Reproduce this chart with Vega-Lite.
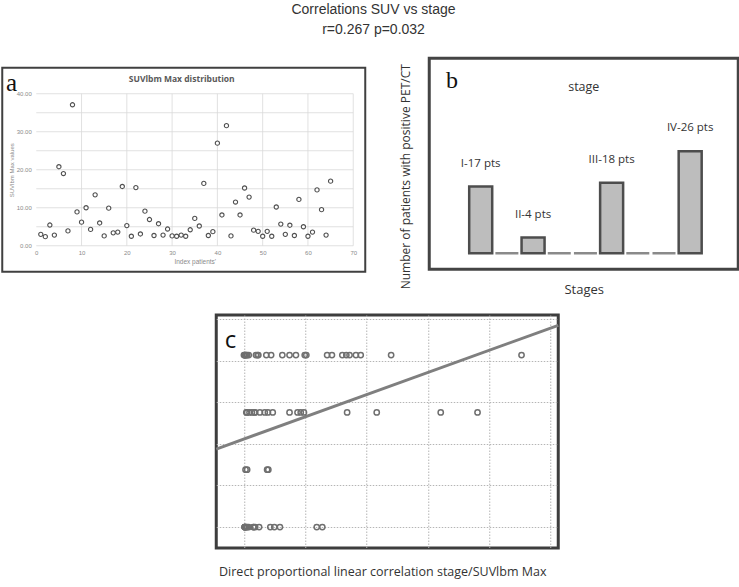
{
  "$schema": "https://vega.github.io/schema/vega-lite/v6.json",
  "background": "white",
  "padding": {"left": 1, "top": 3, "right": 0, "bottom": 0},
  "title": {"text": "Correlations SUV vs stage", "subtitle": "r=0.267 p=0.032", "font": "Liberation Sans", "subtitleFont": "Liberation Sans", "fontSize": 14, "subtitleFontSize": 14, "fontWeight": "normal", "color": "#333333", "subtitleColor": "#333333", "subtitlePadding": 6, "offset": 17, "anchor": "middle", "dx": 3},
  "datasets": {
    "patients": [
      {"idx":1,"suv":3.0,"stage":1},{"idx":2,"suv":2.4,"stage":4},{"idx":3,"suv":5.45,"stage":2},{"idx":4,"suv":2.8,"stage":4},{"idx":5,"suv":20.8,"stage":4},
      {"idx":6,"suv":19.0,"stage":3},{"idx":7,"suv":3.9,"stage":4},{"idx":8,"suv":37.1,"stage":4},{"idx":9,"suv":8.9,"stage":4},{"idx":10,"suv":6.2,"stage":1},
      {"idx":11,"suv":10.0,"stage":4},{"idx":12,"suv":4.3,"stage":1},{"idx":13,"suv":13.4,"stage":4},{"idx":14,"suv":6.0,"stage":3},{"idx":15,"suv":2.6,"stage":4},
      {"idx":16,"suv":9.9,"stage":3},{"idx":17,"suv":3.4,"stage":3},{"idx":18,"suv":3.6,"stage":1},{"idx":19,"suv":15.6,"stage":4},{"idx":20,"suv":5.3,"stage":2},
      {"idx":21,"suv":2.5,"stage":4},{"idx":22,"suv":15.3,"stage":3},{"idx":23,"suv":3.1,"stage":3},{"idx":24,"suv":9.1,"stage":3},{"idx":25,"suv":6.9,"stage":1},
      {"idx":26,"suv":2.7,"stage":4},{"idx":27,"suv":5.8,"stage":4},{"idx":28,"suv":2.8,"stage":3},{"idx":29,"suv":4.4,"stage":3},{"idx":30,"suv":2.6,"stage":2},
      {"idx":31,"suv":2.5,"stage":4},{"idx":32,"suv":2.8,"stage":2},{"idx":33,"suv":2.5,"stage":1},{"idx":34,"suv":4.2,"stage":4},{"idx":35,"suv":7.2,"stage":4},
      {"idx":36,"suv":5.2,"stage":4},{"idx":37,"suv":16.4,"stage":4},{"idx":38,"suv":2.7,"stage":3},{"idx":39,"suv":3.7,"stage":3},{"idx":40,"suv":27.0,"stage":3},
      {"idx":41,"suv":8.1,"stage":4},{"idx":42,"suv":31.6,"stage":3},{"idx":43,"suv":2.6,"stage":1},{"idx":44,"suv":11.5,"stage":1},{"idx":45,"suv":8.1,"stage":3},
      {"idx":46,"suv":15.2,"stage":4},{"idx":47,"suv":12.8,"stage":4},{"idx":48,"suv":4.1,"stage":4},{"idx":49,"suv":3.8,"stage":3},{"idx":50,"suv":2.5,"stage":1},
      {"idx":51,"suv":3.8,"stage":1},{"idx":52,"suv":2.5,"stage":1},{"idx":53,"suv":10.2,"stage":4},{"idx":54,"suv":5.7,"stage":1},{"idx":55,"suv":3.0,"stage":4},
      {"idx":56,"suv":5.4,"stage":3},{"idx":57,"suv":2.7,"stage":1},{"idx":58,"suv":12.2,"stage":1},{"idx":59,"suv":5.0,"stage":3},{"idx":60,"suv":2.5,"stage":1},
      {"idx":61,"suv":3.6,"stage":1},{"idx":62,"suv":14.7,"stage":4},{"idx":63,"suv":9.5,"stage":3},{"idx":64,"suv":2.8,"stage":1},{"idx":65,"suv":17.0,"stage":4}
    ],
    "stages": [
      {"slot":1,"count":17,"label":"I-17 pts"},{"slot":2,"count":0,"label":""},{"slot":3,"count":4,"label":"II-4 pts"},
      {"slot":4,"count":0,"label":""},{"slot":5,"count":0,"label":""},{"slot":6,"count":18,"label":"III-18 pts"},
      {"slot":7,"count":0,"label":""},{"slot":8,"count":0,"label":""},{"slot":9,"count":26,"label":"IV-26 pts"}
    ],
    "fit": [{"suv": -1.06, "stage": 2.36}, {"suv": 41.69, "stage": 4.52}]
  },
  "center": true,
  "spacing": 15,
  "vconcat": [
    {
      "center": true,
      "spacing": 31,
      "hconcat": [
        {
          "width": 363, "height": 204,
          "view": {"stroke": "#404040", "strokeWidth": 2, "fill": "white"},
          "title": {"text": [" ", "SUVlbm Max distribution"], "font": "Open Sans", "fontSize": 8.5, "fontWeight": "bold", "color": "#595959", "lineHeight": 20, "baseline": "bottom", "offset": -25, "anchor": "middle", "dx": -2},
          "layer": [
            {
              "data": {"values": [{"g":0},{"g":5},{"g":10},{"g":15},{"g":20},{"g":25},{"g":30},{"g":35},{"g":40}]},
              "mark": {"type": "rule", "color": "#d9d9d9", "strokeWidth": 0.8},
              "encoding": {
                "y": {"field": "g", "type": "quantitative", "scale": {"domain": [-6.84, 46.84], "nice": false, "zero": false},
                  "axis": {"orient": "left", "offset": -34, "values": [0,5,10,15,20,25,30,35,40], "format": ".2f", "domain": false, "ticks": false, "grid": false, "labelFlush": false, "labelFont": "Liberation Sans", "labelFontSize": 6, "labelColor": "#8a8a8a", "labelPadding": 5, "title": "SUVlbm Max values", "titleFont": "Liberation Sans", "titleFontSize": 6, "titleFontWeight": "normal", "titleColor": "#8a8a8a", "titlePadding": 2}},
                "x": {"datum": 0, "type": "quantitative", "scale": {"domain": [-7.51, 72.65], "nice": false, "zero": false},
                  "axis": {"orient": "bottom", "offset": -26, "values": [0,10,20,30,40,50,60,70], "domain": false, "ticks": false, "grid": false, "labelFlush": false, "labelFont": "Liberation Sans", "labelFontSize": 6, "labelColor": "#8a8a8a", "labelPadding": 4, "title": ["Index patients'", " "], "titleLineHeight": 22, "titleFont": "Liberation Sans", "titleFontSize": 6.5, "titleFontWeight": "normal", "titleColor": "#8a8a8a", "titlePadding": 3, "titleX": 192.5}},
                "x2": {"datum": 70}
              }
            },
            {
              "data": {"values": [{"g":10},{"g":20},{"g":30},{"g":40},{"g":50},{"g":60},{"g":70}]},
              "mark": {"type": "rule", "color": "#d9d9d9", "strokeWidth": 0.8},
              "encoding": {
                "x": {"field": "g", "type": "quantitative"},
                "y": {"datum": 0, "type": "quantitative"},
                "y2": {"datum": 40}
              }
            },
            {
              "data": {"name": "patients"},
              "mark": {"type": "point", "shape": "circle", "filled": true, "fill": "white", "stroke": "#505050", "strokeWidth": 1.1, "size": 18, "opacity": 1},
              "encoding": {
                "x": {"field": "idx", "type": "quantitative", "title": ["Index patients'", " "]},
                "y": {"field": "suv", "type": "quantitative", "title": "SUVlbm Max values"}
              }
            },
            {
              "data": {"values": [{}]},
              "mark": {"type": "text", "text": "a", "font": "Liberation Serif", "fontSize": 25, "align": "left", "baseline": "alphabetic", "color": "#111111"},
              "encoding": {
                "x": {"datum": -6.69, "type": "quantitative"},
                "y": {"datum": 40.79, "type": "quantitative"}
              }
            }
          ]
        },
        {
          "width": 309, "height": 211,
          "view": {"stroke": "#444444", "strokeWidth": 3, "fill": "white"},
          "title": {"text": "stage", "font": "Open Sans", "fontSize": 12.5, "fontWeight": "normal", "color": "#333333", "offset": -41, "baseline": "middle", "anchor": "middle"},
          "data": {"name": "stages"},
          "layer": [
            {
              "mark": {"type": "bar", "width": 23, "fill": "#bdbdbd", "strokeWidth": 2.5},
              "encoding": {
                "x": {"field": "slot", "type": "quantitative", "scale": {"domain": [-0.774, 10.645], "nice": false, "zero": false},
                  "axis": {"title": "Stages", "labels": false, "ticks": false, "domain": false, "grid": false, "titleFont": "Open Sans", "titleFontSize": 13, "titleFontWeight": "normal", "titleColor": "#333333", "titlePadding": 14}},
                "y": {"field": "count", "type": "quantitative", "scale": {"domain": [-4.08, 49.74], "nice": false, "zero": false},
                  "axis": {"title": "Number of patients  with positive PET/CT", "labels": false, "ticks": false, "domain": false, "grid": false, "titleFont": "Open Sans", "titleFontSize": 12, "titleFontWeight": "normal", "titleColor": "#333333", "titlePadding": 17, "titleY": 118}},
                "y2": {"datum": 0},
                "stroke": {"condition": {"test": "datum.count === 0", "value": "#8a8a8a"}, "value": "#4d4d4d"}
              }
            },
            {
              "mark": {"type": "text", "font": "Open Sans", "fontSize": 11.5, "color": "#333333", "dy": -23, "baseline": "middle"},
              "encoding": {
                "x": {"field": "slot", "type": "quantitative", "title": "Stages"},
                "y": {"field": "count", "type": "quantitative", "title": "Number of patients  with positive PET/CT"},
                "text": {"field": "label"}
              }
            },
            {
              "data": {"values": [{}]},
              "mark": {"type": "text", "text": "b", "font": "Liberation Serif", "fontSize": 24, "align": "left", "baseline": "alphabetic", "color": "#111111"},
              "encoding": {
                "x": {"datum": -0.33, "type": "quantitative"},
                "y": {"datum": 42.09, "type": "quantitative"}
              }
            }
          ]
        }
      ]
    },
    {
      "spacing": 16,
      "hconcat": [
        {
          "width": 16, "height": 1,
          "view": {"stroke": null, "fill": null},
          "data": {"values": []},
          "mark": "point"
        },
        {
          "width": 342, "height": 233,
          "view": {"stroke": "#3d3d3d", "strokeWidth": 3, "fill": "white"},
          "layer": [
            {
              "data": {"name": "fit"},
              "mark": {"type": "line", "color": "#7f7f7f", "strokeWidth": 3},
              "encoding": {
                "x": {"field": "suv", "type": "quantitative", "scale": {"domain": [-1.06, 41.69], "nice": false, "zero": false},
                  "axis": {"orient": "bottom", "values": [2.44,6.265,10.09,13.915,17.74,21.565,25.39,29.215,33.04,36.865,40.69], "labels": false, "ticks": false, "domain": false, "grid": true, "gridColor": "#b5b5b5", "gridDash": [1.5, 1.5], "gridWidth": 1, "title": "Direct proportional linear correlation stage/SUVlbm Max", "titleFont": "Open Sans", "titleFontSize": 12.5, "titleFontWeight": "normal", "titleColor": "#333333", "titlePadding": 17, "titleX": 166}},
                "y": {"field": "stage", "type": "quantitative", "scale": {"domain": [0.634, 4.70], "nice": false, "zero": false},
                  "axis": {"orient": "left", "values": [1,1.363,1.726,2.089,2.452,2.815,3.178,3.541,3.904,4.267,4.63], "labels": false, "ticks": false, "domain": false, "grid": true, "gridColor": "#b5b5b5", "gridDash": [1.5, 1.5], "gridWidth": 1, "title": null}}
              }
            },
            {
              "data": {"name": "patients"},
              "mark": {"type": "point", "shape": "circle", "filled": false, "stroke": "#6f6f6f", "strokeWidth": 1.5, "size": 28, "opacity": 1},
              "encoding": {
                "x": {"field": "suv", "type": "quantitative", "title": "Direct proportional linear correlation stage/SUVlbm Max"},
                "y": {"field": "stage", "type": "quantitative", "title": null}
              }
            },
            {
              "data": {"values": [{}]},
              "mark": {"type": "text", "text": "c", "font": "Open Sans", "fontSize": 24, "align": "left", "baseline": "alphabetic", "color": "#111111"},
              "encoding": {
                "x": {"datum": 0.0, "type": "quantitative"},
                "y": {"datum": 4.124, "type": "quantitative"}
              }
            }
          ]
        }
      ]
    }
  ]
}
